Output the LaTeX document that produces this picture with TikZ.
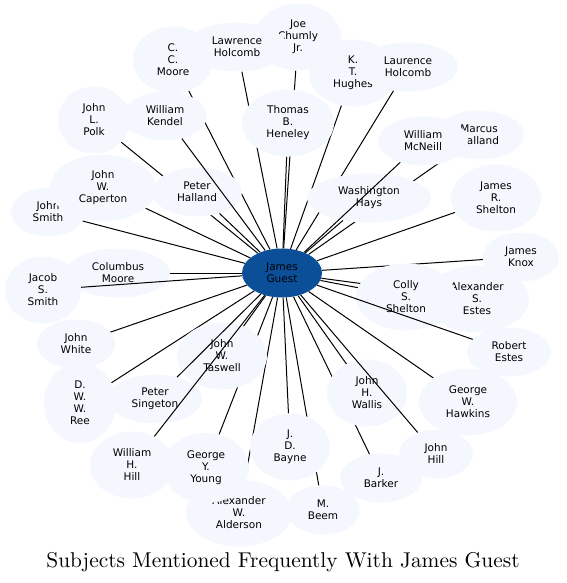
\documentclass[tikz,border=0pt]{standalone}
\usepackage{fontspec}
\usetikzlibrary{shapes.geometric,backgrounds}
\newfontfamily\dejavu{DejaVu Sans}
\definecolor{subjfill}{HTML}{F4F8FE}
\definecolor{hubblue}{HTML}{0B4F99}
\tikzset{
  basenode/.style = {ellipse, align=center, inner sep=0pt, font=\dejavu\fontsize{10.5}{12}\selectfont},
  subj_2/.style = {basenode, fill=subjfill, minimum height=49pt},
  subj_3/.style = {basenode, fill=subjfill, minimum height=67pt},
  subj_4/.style = {basenode, fill=subjfill, minimum height=81pt},
  hub/.style = {basenode, fill=hubblue, minimum width=80pt, minimum height=49pt},
  link/.style = {line width=1pt},
}

\begin{document}
\begin{tikzpicture}[x=1pt, y=-1pt]
  \useasboundingbox (0,0) rectangle (566,583);

  % subjects (later ones lie over earlier ones)
  \node [subj_3, minimum width=86pt] (joe) at (298,37) {Joe\\Chumly\\Jr.};
  \node [subj_2, minimum width=100pt] (lawrence) at (237,47) {Lawrence\\Holcomb};
  \node [subj_3, minimum width=80pt] (ccmoore) at (173,60) {C.\\C.\\Moore};
  \node [subj_2, minimum width=84pt] (kendel) at (165,116) {William\\Kendel};
  \node [subj_3, minimum width=72pt] (polk) at (94,120) {John\\L.\\Polk};
  \node [subj_3, minimum width=92pt] (thomas) at (288,123) {Thomas\\B.\\Heneley};
  \node [subj_3, minimum width=88pt] (hughes) at (353,73) {K.\\T.\\Hughes};
  \node [subj_2, minimum width=100pt] (laurence) at (408,67) {Laurence\\Holcomb};
  \node [subj_2, minimum width=90pt] (marcus) at (479,135) {Marcus\\Halland};
  \node [subj_2, minimum width=90pt] (mcneill) at (423,141) {William\\McNeill};
  \node [subj_2, minimum width=124pt] (hays) at (369,198) {Washington\\Hays};
  \node [subj_3, minimum width=90pt] (jrshelton) at (496,198) {James\\R.\\Shelton};
  \node [subj_2, minimum width=76pt] (knox) at (521,257) {James\\Knox};
  \node [subj_3, minimum width=104pt] (asestes) at (477,299) {Alexander\\S.\\Estes};
  \node [subj_3, minimum width=100pt] (colly) at (406,297) {Colly\\S.\\Shelton};
  \node [subj_2, minimum width=84pt] (robert) at (509,352) {Robert\\Estes};
  \node [subj_3, minimum width=98pt] (hawkins) at (468,402) {George\\W.\\Hawkins};
  \node [subj_2, minimum width=74pt] (johnhill) at (436,454) {John\\Hill};
  \node [subj_2, minimum width=82pt] (barker) at (381,478) {J.\\Barker};
  \node [subj_3, minimum width=80pt] (wallis) at (367,393) {John\\H.\\Wallis};
  \node [subj_2, minimum width=74pt] (beem) at (323,510) {M.\\Beem};
  \node [subj_3, minimum width=80pt] (bayne) at (290,447) {J.\\D.\\Bayne};
  \node [subj_3, minimum width=106pt] (alderson) at (239,513) {Alexander\\W.\\Alderson};
  \node [subj_3, minimum width=86pt, minimum height=70pt] (young) at (206,468) {George\\Y.\\Young};
  \node [subj_3, minimum width=84pt] (whill) at (132,465) {William\\H.\\Hill};
  \node [subj_3, minimum width=90pt] (taswell) at (222,356) {John\\W.\\Taswell};
  \node [subj_2, minimum width=94pt] (singeton) at (155,399) {Peter\\Singeton};
  \node [subj_4, minimum width=72pt] (ree) at (80,403) {D.\\W.\\W.\\Ree};
  \node [subj_2, minimum width=78pt] (jwhite) at (76,344) {John\\White};
  \node [subj_3, minimum width=76pt] (jacob) at (43,290) {Jacob\\S.\\Smith};
  \node [subj_2, minimum width=104pt] (columbus) at (118,273) {Columbus\\Moore};
  \node [subj_2, minimum width=74pt] (jsmith) at (48,212) {John\\Smith};
  \node [subj_3, minimum width=106pt] (caperton) at (103,188) {John\\W.\\Caperton};
  \node [subj_2, minimum width=90pt] (phalland) at (197,192) {Peter\\Halland};
  \node [hub] (guest) at (282,273) {James\\Guest};

  % links that run behind the subjects
  \begin{pgfonlayer}{background}
    \foreach \n in {joe, lawrence, ccmoore, polk, thomas, hughes, laurence, marcus,
                    hays, jrshelton, knox, asestes, colly, hawkins, barker, wallis,
                    beem, bayne, alderson, young, taswell, ree, jwhite, columbus,
                    jsmith, caperton, phalland}
      \draw [link] (guest) -- (\n);
  \end{pgfonlayer}
  % links that run over them
  \foreach \n in {kendel, mcneill, robert, johnhill, whill, singeton, jacob}
    \draw [link] (guest) -- (\n);

  \node [anchor=base] (title) at (283,567) {\scalebox{2.14}{Subjects Mentioned Frequently With James Guest}};
\end{tikzpicture}
\end{document}
